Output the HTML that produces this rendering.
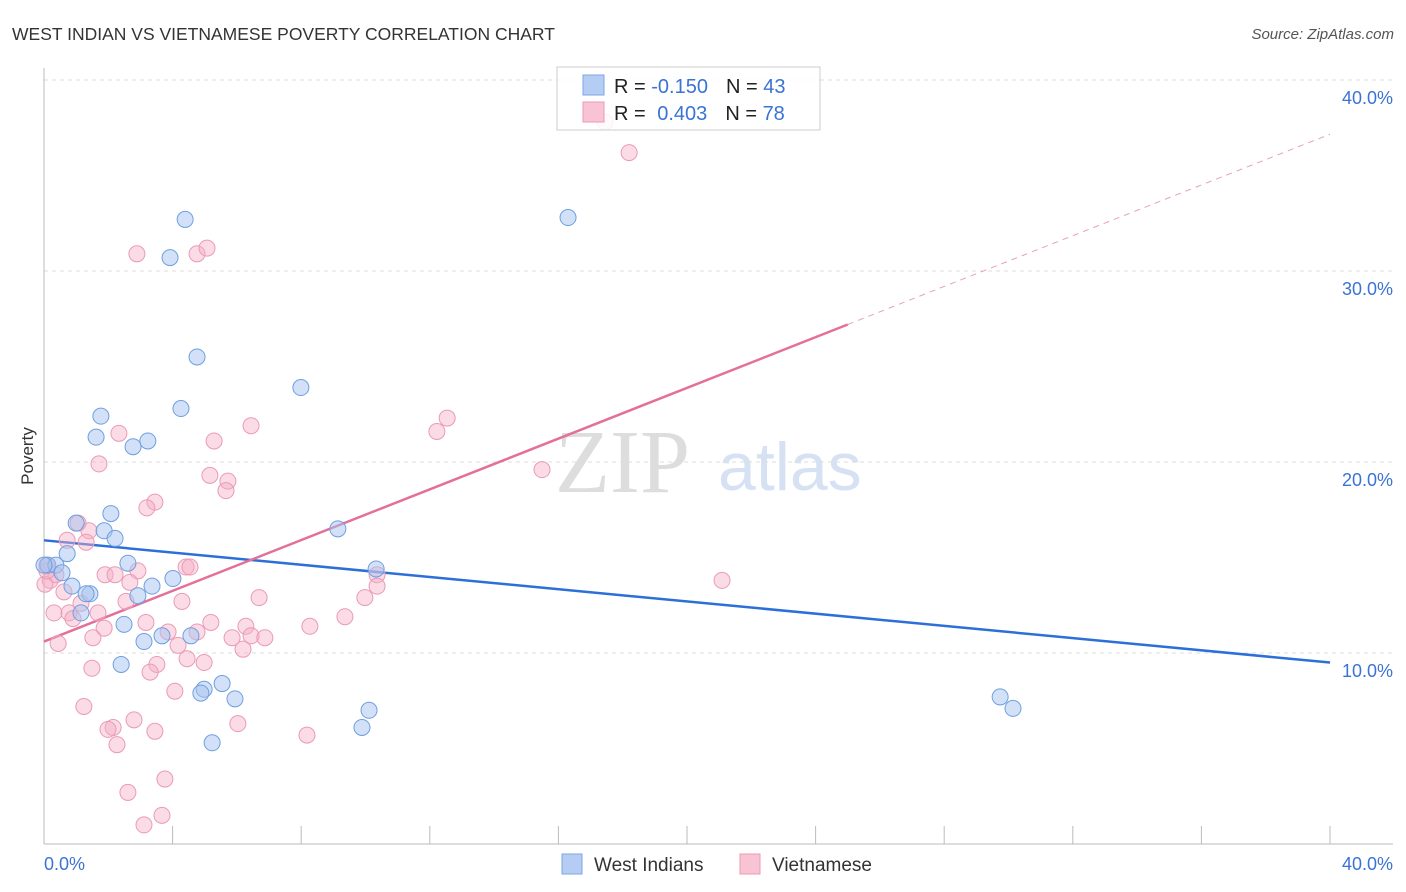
<!DOCTYPE html>
<html><head><meta charset="utf-8"><style>
body{margin:0;background:#fff;font-family:"Liberation Sans",sans-serif;}
svg{display:block}
</style></head><body>
<svg id="chart" width="1406" height="892" xmlns="http://www.w3.org/2000/svg">
<text x="12" y="40" font-size="17.5" fill="#333">WEST INDIAN VS VIETNAMESE POVERTY CORRELATION CHART</text>
<text x="1394" y="39" font-size="15" fill="#555" font-style="italic" text-anchor="end">Source: ZipAtlas.com</text>
<g>
<text x="555" y="492" font-size="90" fill="#ddd" font-family="Liberation Serif,serif">ZIP</text>
<text x="718" y="490" font-size="68" fill="#d6e2f4">atlas</text>
</g>
<g id="grid"></g>
<g id="axes"></g>
<g id="lines"></g>
<g id="pts"></g>
<text transform="translate(33,456) rotate(-90)" font-size="17" fill="#333" text-anchor="middle">Poverty</text>
<g>
<rect x="557" y="67" width="263" height="63" fill="rgba(255,255,255,0.85)" stroke="#ccc"/>
<rect x="583" y="75" width="21" height="20" fill="#b5cdf3" stroke="#7aa6e6"/>
<rect x="583" y="102" width="21" height="20" fill="#f8c3d3" stroke="#ec98b4"/>
<text x="614" y="93" font-size="20" fill="#222">R = <tspan fill="#3b73d4">-0.150</tspan><tspan dx="18">N = </tspan><tspan fill="#3b73d4">43</tspan></text>
<text x="614" y="120" font-size="20" fill="#222">R = <tspan dx="6" fill="#3b73d4">0.403</tspan><tspan dx="18">N = </tspan><tspan fill="#3b73d4">78</tspan></text>
</g>
<g>
<rect x="562" y="854" width="20" height="20" fill="#b5cdf3" stroke="#7aa6e6"/>
<text x="594" y="871" font-size="19" fill="#333">West Indians</text>
<rect x="740" y="854" width="20" height="20" fill="#f8c3d3" stroke="#ec98b4"/>
<text x="772" y="871" font-size="19" fill="#333">Vietnamese</text>
</g>
</svg>
<script>
const yTicks=[10,20,30,40];
const yTickLabels=["10.0%","20.0%","30.0%","40.0%"];
const blueX=[4.39,3.92,16.30,4.76,7.99,4.26,1.77,1.62,3.23,2.77,2.08,1.00,1.87,2.21,9.14,0.72,0.12,0.37,0.56,0.0,2.61,10.33,0.87,4.01,3.36,1.43,1.31,2.92,1.15,2.49,3.67,4.57,3.11,2.40,5.54,4.98,4.88,5.94,10.11,9.89,5.23,29.74,30.14];
const blueY=[32.7,30.7,32.8,25.5,23.9,22.8,22.4,21.3,21.1,20.8,17.3,16.8,16.4,16.0,16.5,15.2,14.6,14.6,14.2,14.6,14.7,14.4,13.5,13.9,13.5,13.1,13.1,13.0,12.1,11.5,10.9,10.9,10.6,9.4,8.4,8.1,7.9,7.6,7.0,6.1,5.3,7.7,7.1];
const pinkX=[17.45,18.20,2.89,4.76,5.07,12.54,12.22,6.44,2.33,5.29,1.71,15.49,5.16,5.72,5.66,3.45,3.20,1.06,1.40,1.31,0.72,0.09,0.19,0.37,1.90,2.21,2.92,4.42,4.54,10.36,21.09,0.62,2.67,6.69,9.98,10.36,4.29,2.55,1.15,0.31,0.78,1.68,0.90,9.36,8.27,5.19,3.17,6.28,1.87,1.52,4.76,3.86,5.85,6.44,6.87,4.17,6.19,0.44,4.45,4.98,3.51,1.49,3.30,4.07,1.24,2.80,2.15,1.99,6.03,3.45,8.18,2.27,3.76,2.61,3.67,3.11,0.03,0.09];
const pinkY=[37.8,36.2,30.9,30.9,31.2,22.3,21.6,21.9,21.5,21.1,19.9,19.6,19.3,19.0,18.5,17.9,17.6,16.8,16.4,15.8,15.9,14.6,13.8,14.1,14.1,14.1,14.3,14.5,14.5,14.1,13.8,13.2,13.7,12.9,12.9,13.5,12.7,12.7,12.6,12.1,12.1,12.1,11.8,11.9,11.4,11.6,11.6,11.4,11.3,10.8,11.1,11.1,10.8,10.9,10.8,10.4,10.2,10.5,9.7,9.5,9.4,9.2,9.0,8.0,7.2,6.5,6.1,6.0,6.3,5.9,5.7,5.2,3.4,2.7,1.5,1.0,13.6,14.3];
const blueTrend=[15.9,9.5];
const pinkTrend=[10.6,0.664];
const NS="http://www.w3.org/2000/svg";
const X=v=>44+v*32.15, Y=v=>844-v*19.1;
function mk(p,t,a){const e=document.createElementNS(NS,t);for(const k in a)e.setAttribute(k,a[k]);document.getElementById(p).appendChild(e);return e;}
yTicks.forEach((t,i)=>{
 const g=mk('grid','line',{x1:44,x2:1392,y1:Y(t),y2:Y(t),stroke:'#ddd','stroke-dasharray':'4,4'});
 
 
 const l=mk('grid','text',{x:1393,y:Y(t)+24,'font-size':18,fill:'#3b73d4','text-anchor':'end'});
 l.textContent=yTickLabels[i];
 
 
});
let a=mk('axes','line',{x1:44,x2:44,y1:68,y2:844,stroke:'#bbb'});


a=mk('axes','line',{x1:44,x2:1393,y1:844,y2:844,stroke:'#bbb'});


for(let v=0;v<=40;v+=4){const t=mk('axes','line',{x1:X(v),x2:X(v),y1:826,y2:844,stroke:'#bbb'});
 
 }
[["0.0%",44,'start'],["40.0%",1393,'end']].forEach(d=>{const t=mk('axes','text',{x:d[1],y:870,'font-size':18,fill:'#3b73d4','text-anchor':d[2]});t.textContent=d[0];
 
 });
let ln=mk('lines','line',{x1:X(0),y1:Y(blueTrend[0]),x2:X(40),y2:Y(blueTrend[1]),stroke:'#2c6fd8','stroke-width':2.5});


ln=mk('lines','line',{x1:X(0),y1:Y(pinkTrend[0]),x2:X(25),y2:Y(pinkTrend[0]+25*pinkTrend[1]),stroke:'#e4709a','stroke-width':2.5});


ln=mk('lines','line',{x1:X(25),y1:Y(pinkTrend[0]+25*pinkTrend[1]),x2:X(40),y2:Y(pinkTrend[0]+40*pinkTrend[1]),stroke:'#e8a0b8','stroke-width':1,'stroke-dasharray':'6,5'});


pinkX.forEach((v,i)=>{const c=mk('pts','circle',{cx:X(v),cy:Y(pinkY[i]),r:8,fill:'rgba(245,175,200,0.45)',stroke:'#eb9ab6','stroke-width':1});
 
 });
blueX.forEach((v,i)=>{const c=mk('pts','circle',{cx:X(v),cy:Y(blueY[i]),r:8,fill:'rgba(165,195,240,0.5)',stroke:'#6f9fe0','stroke-width':1});
 
 });
</script>
</body></html>
